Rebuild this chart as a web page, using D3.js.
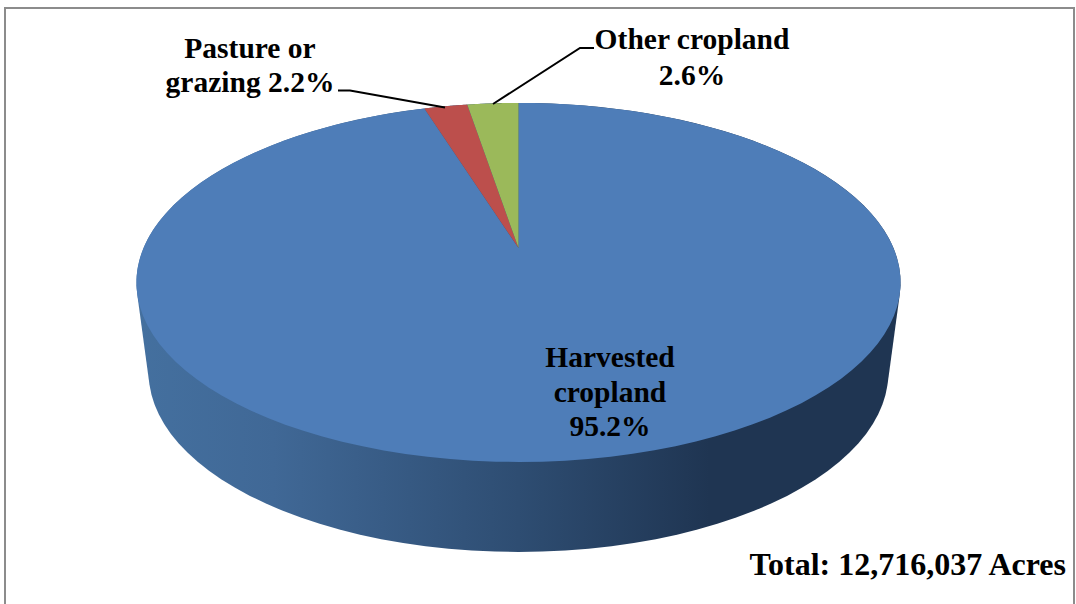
<!DOCTYPE html>
<html>
<head>
<meta charset="utf-8">
<script src="https://cdn.jsdelivr.net/npm/d3@7"></script>
<style>
    html, body { margin: 0; padding: 0; background: #fff; }
    text { font-family: "Liberation Serif", serif; font-weight: bold; fill: #000; }
</style>
</head>
<body>
<svg id="chart" width="1076" height="604"></svg>
<script>
var categories = ["Harvested cropland", "Pasture or grazing", "Other cropland"];
var shares = [95.2, 2.2, 2.6];
var sliceColors = ["#4e7db8", "#bc4f4c", "#9bb95a"];
var labelLines = [
    ["Harvested", "cropland", "95.2%"],
    ["Pasture or", "grazing 2.2%"],
    ["Other cropland", "2.6%"]
];
var totalLabel = "Total: 12,716,037 Acres";

var svg = d3.select("#chart");

// pie is tilted with perspective, so the middle of the slices sits above the middle of the ellipse
var tilt = 0.192;
function project(angle, ring) {
    var u = Math.sin(angle), v = Math.cos(angle), w = 1 + tilt * v;
    return [ring.x + ring.k * u / w, ring.y - ring.b * v / w];
}
var topRing = { x: 518.5, y: 248, k: 375, b: 172.9 };
var baseRing = { x: 518.5, y: 338, k: 363, b: 172.9 };

var line = d3.line();
function arcPoints(a0, a1, ring) {
    return d3.range(0, 121).map(i => project(a0 + (a1 - a0) * i / 120, ring));
}

var defs = svg.append("defs");
var sideGradient = defs.append("linearGradient")
    .attr("id", "sideGradient")
    .attr("gradientUnits", "userSpaceOnUse")
    .attr("x1", 136).attr("x2", 901).attr("y1", 0).attr("y2", 0);
[[0, "#44709f"], [0.18, "#406896"], [0.5, "#2e4d72"], [0.75, "#1f3552"], [1, "#1f3552"]].forEach(s => {
    sideGradient.append("stop").attr("offset", s[0]).attr("stop-color", s[1]);
});

// frame, bottom edge falls outside the picture
svg.append("path")
    .attr("d", "M5,604V8H1074V604")
    .attr("fill", "none")
    .attr("stroke", "#8c8c8c")
    .attr("stroke-width", 2);

// side wall: hull of the top rim and the base, top slices cover the rest
var side = d3.polygonHull(arcPoints(0, Math.PI * 2, topRing)
    .concat(arcPoints(0, Math.PI * 2, baseRing)));
svg.append("path")
    .attr("d", line(side) + "Z")
    .attr("fill", "url(#sideGradient)");

var pie = d3.pie().sort(null).value(d => d);
var slices = pie(shares);

svg.selectAll(".slice")
    .data(slices)
    .enter().append("path")
    .attr("class", "slice")
    .attr("d", d => {
        var pts = [[topRing.x, topRing.y]]
            .concat(arcPoints(d.startAngle, d.endAngle, topRing));
        return line(pts) + "Z";
    })
    .attr("fill", (d, i) => sliceColors[i]);

// leader lines
svg.append("path")
    .attr("d", "M338,90.5H350L445,107.5")
    .attr("fill", "none").attr("stroke", "#000").attr("stroke-width", 2);
svg.append("path")
    .attr("d", "M594,48H580L493,104")
    .attr("fill", "none").attr("stroke", "#000").attr("stroke-width", 2);

var labelPos = [
    { x: 610, y: 367, gap: 34.5 },
    { x: 250, y: 58, gap: 34 },
    { x: 692, y: 49, gap: 36 }
];
labelLines.forEach((rows, i) => {
    svg.selectAll(null)
        .data(rows)
        .enter().append("text")
        .attr("x", labelPos[i].x)
        .attr("y", (d, j) => labelPos[i].y + j * labelPos[i].gap)
        .attr("text-anchor", "middle")
        .attr("font-size", 29.5)
        .text(d => d);
});

svg.append("text")
    .attr("x", 1066)
    .attr("y", 575)
    .attr("text-anchor", "end")
    .attr("font-size", 32)
    .text(totalLabel);
</script>
</body>
</html>
